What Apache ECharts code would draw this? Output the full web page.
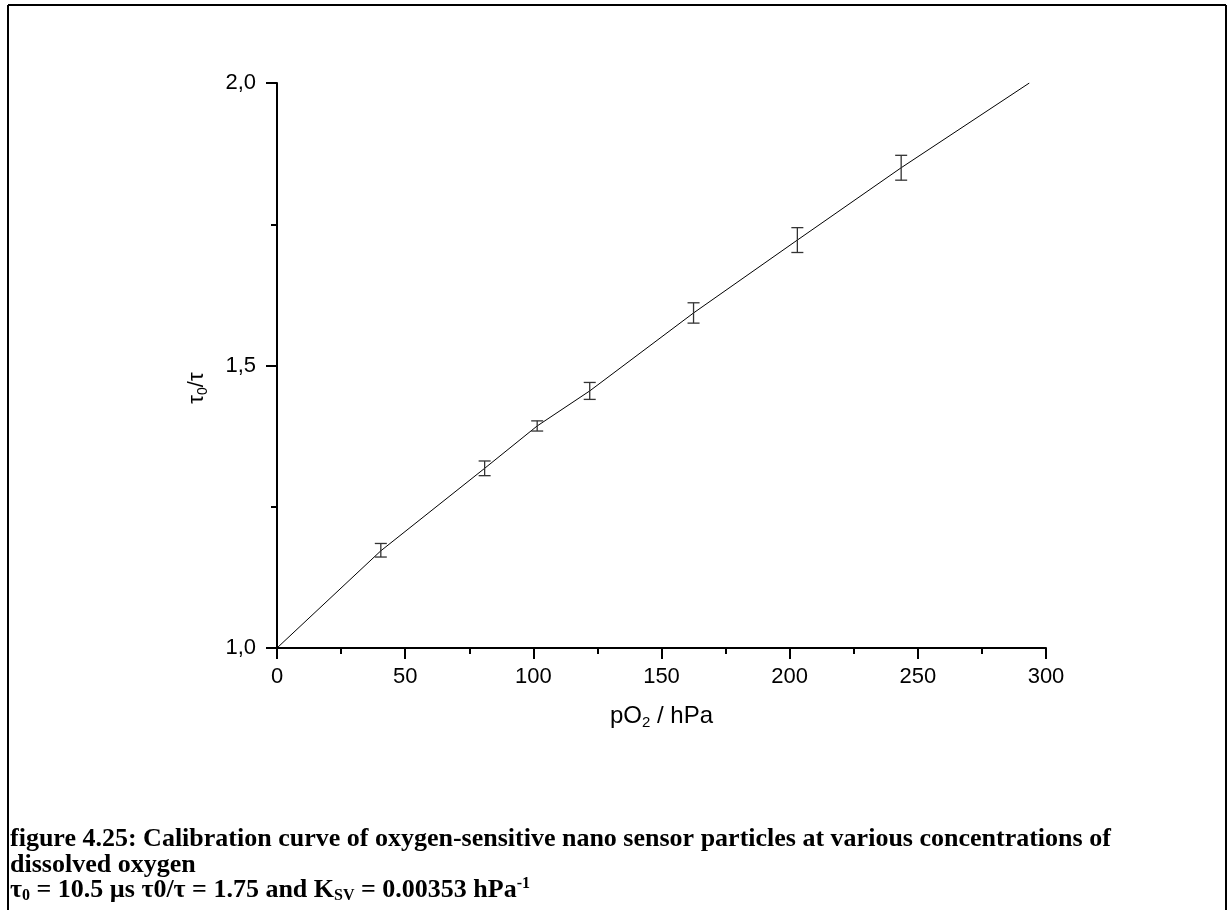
<!DOCTYPE html>
<html>
<head>
<meta charset="utf-8">
<script src="https://cdn.jsdelivr.net/npm/echarts@6/dist/echarts.min.js"></script>
<style>
  html, body { margin: 0; padding: 0; background: #fff; }
  #chart { width: 1229px; height: 910px; }
</style>
</head>
<body>
<div id="chart"></div>
<script>
// Oxygen partial pressure (hPa) of each calibration point
const pO2 = [40.5, 81, 101.5, 122, 162.5, 203, 243.5];
// Measured lifetime ratio tau0/tau
const ratio = [1.173, 1.318, 1.393, 1.455, 1.593, 1.722, 1.850];
// Half-height of each error bar
const ratioErr = [0.012, 0.013, 0.009, 0.015, 0.018, 0.022, 0.022];
// Fitted Stern-Volmer curve
const fitX = [0, 40.5, 81, 101.5, 122, 162.5, 203, 243.5, 293.5];
const fitY = [1.0, 1.172, 1.318, 1.393, 1.455, 1.593, 1.722, 1.850, 2.0];
// Axis ticks
const xTicks = [0, 50, 100, 150, 200, 250, 300];
const yTicks = [1.0, 1.5, 2.0];

const chart = echarts.init(document.getElementById('chart'));

const fitData = fitX.map((x, i) => [x, fitY[i]]);
const barData = pO2.map((x, i) => [x, ratio[i] - ratioErr[i], ratio[i] + ratioErr[i]]);

const axisFont = 'Liberation Sans, Arial, sans-serif';
const serifBold = '"Liberation Serif", "Times New Roman", serif';

chart.setOption({
  animation: false,
  backgroundColor: '#fff',
  grid: { left: 277, right: 183, top: 83, bottom: 262, containLabel: false },
  xAxis: {
    type: 'value',
    min: xTicks[0],
    max: xTicks[xTicks.length - 1],
    interval: 50,
    axisLine: { show: true, onZero: false, lineStyle: { color: '#000', width: 2 } },
    axisTick: { show: true, length: 11, lineStyle: { color: '#000', width: 2 } },
    minorTick: { show: true, splitNumber: 2, length: 6, lineStyle: { color: '#000', width: 2 } },
    splitLine: { show: false },
    axisLabel: { color: '#000', fontSize: 22, fontFamily: axisFont, margin: 18 },
    name: '{t|pO}{s|2}{t| / hPa}',
    nameLocation: 'middle',
    nameGap: 54,
    nameTextStyle: {
      rich: {
        t: { fontSize: 24, fontFamily: axisFont, color: '#000' },
        s: { fontSize: 15, fontFamily: axisFont, color: '#000', padding: [13, 0, 0, 0] }
      }
    }
  },
  yAxis: {
    type: 'value',
    min: yTicks[0],
    max: yTicks[yTicks.length - 1],
    interval: 0.5,
    axisLine: { show: true, onZero: false, lineStyle: { color: '#000', width: 2 } },
    axisTick: { show: true, length: 11, lineStyle: { color: '#000', width: 2 } },
    minorTick: { show: true, splitNumber: 2, length: 6, lineStyle: { color: '#000', width: 2 } },
    splitLine: { show: false },
    axisLabel: {
      color: '#000', fontSize: 22, fontFamily: axisFont, margin: 21,
      formatter: v => v.toFixed(1).replace('.', ',')
    }
  },
  series: [
    {
      type: 'line',
      data: fitData,
      symbol: 'none',
      smooth: false,
      lineStyle: { color: '#000', width: 1 },
      z: 3
    },
    {
      type: 'custom',
      data: barData,
      z: 4,
      renderItem: function (params, api) {
        const x = api.value(0);
        const lo = api.coord([x, api.value(1)]);
        const hi = api.coord([x, api.value(2)]);
        const cap = 6;
        const style = { stroke: '#333', lineWidth: 1.3 };
        return {
          type: 'group',
          children: [
            { type: 'line', shape: { x1: lo[0], y1: lo[1], x2: hi[0], y2: hi[1] }, style: style },
            { type: 'line', shape: { x1: lo[0] - cap, y1: lo[1], x2: lo[0] + cap, y2: lo[1] }, style: style },
            { type: 'line', shape: { x1: hi[0] - cap, y1: hi[1], x2: hi[0] + cap, y2: hi[1] }, style: style }
          ]
        };
      }
    }
  ],
  graphic: [
    // page frame
    { type: 'line', shape: { x1: 8, y1: 5, x2: 1226, y2: 5 }, style: { stroke: '#000', lineWidth: 2 } },
    { type: 'line', shape: { x1: 8, y1: 5, x2: 8, y2: 910 }, style: { stroke: '#000', lineWidth: 2 } },
    { type: 'line', shape: { x1: 1226, y1: 5, x2: 1226, y2: 910 }, style: { stroke: '#000', lineWidth: 2 } },
    // y-axis title, reading bottom to top
    {
      type: 'text', x: 197, y: 388, rotation: Math.PI / 2,
      style: {
        text: '{t|τ}{s|0}{t|/τ}',
        align: 'center', verticalAlign: 'middle',
        rich: {
          t: { fontSize: 22, fontFamily: axisFont, fill: '#000' },
          s: { fontSize: 14, fontFamily: axisFont, fill: '#000', padding: [12, 0, 0, 0] }
        }
      }
    },
    // caption
    {
      type: 'text', x: 10, y: 826,
      style: {
        text: 'figure 4.25: Calibration curve of oxygen-sensitive nano sensor particles at various concentrations of\ndissolved oxygen',
        font: 'bold 26px ' + serifBold,
        fill: '#000', lineHeight: 26
      }
    },
    {
      type: 'text', x: 10, y: 876,
      style: {
        text: '{b|τ}{sub|0}{b| = 10.5 µs τ0/τ = 1.75 and K}{sub|SV}{b| = 0.00353 hPa}{sup|-1}',
        rich: {
          b: { font: 'bold 26px ' + serifBold, fill: '#000' },
          sub: { font: 'bold 16px ' + serifBold, fill: '#000', padding: [12, 0, 0, 0] },
          sup: { font: 'bold 16px ' + serifBold, fill: '#000', padding: [0, 0, 12, 0] }
        }
      }
    }
  ]
});
</script>
</body>
</html>
